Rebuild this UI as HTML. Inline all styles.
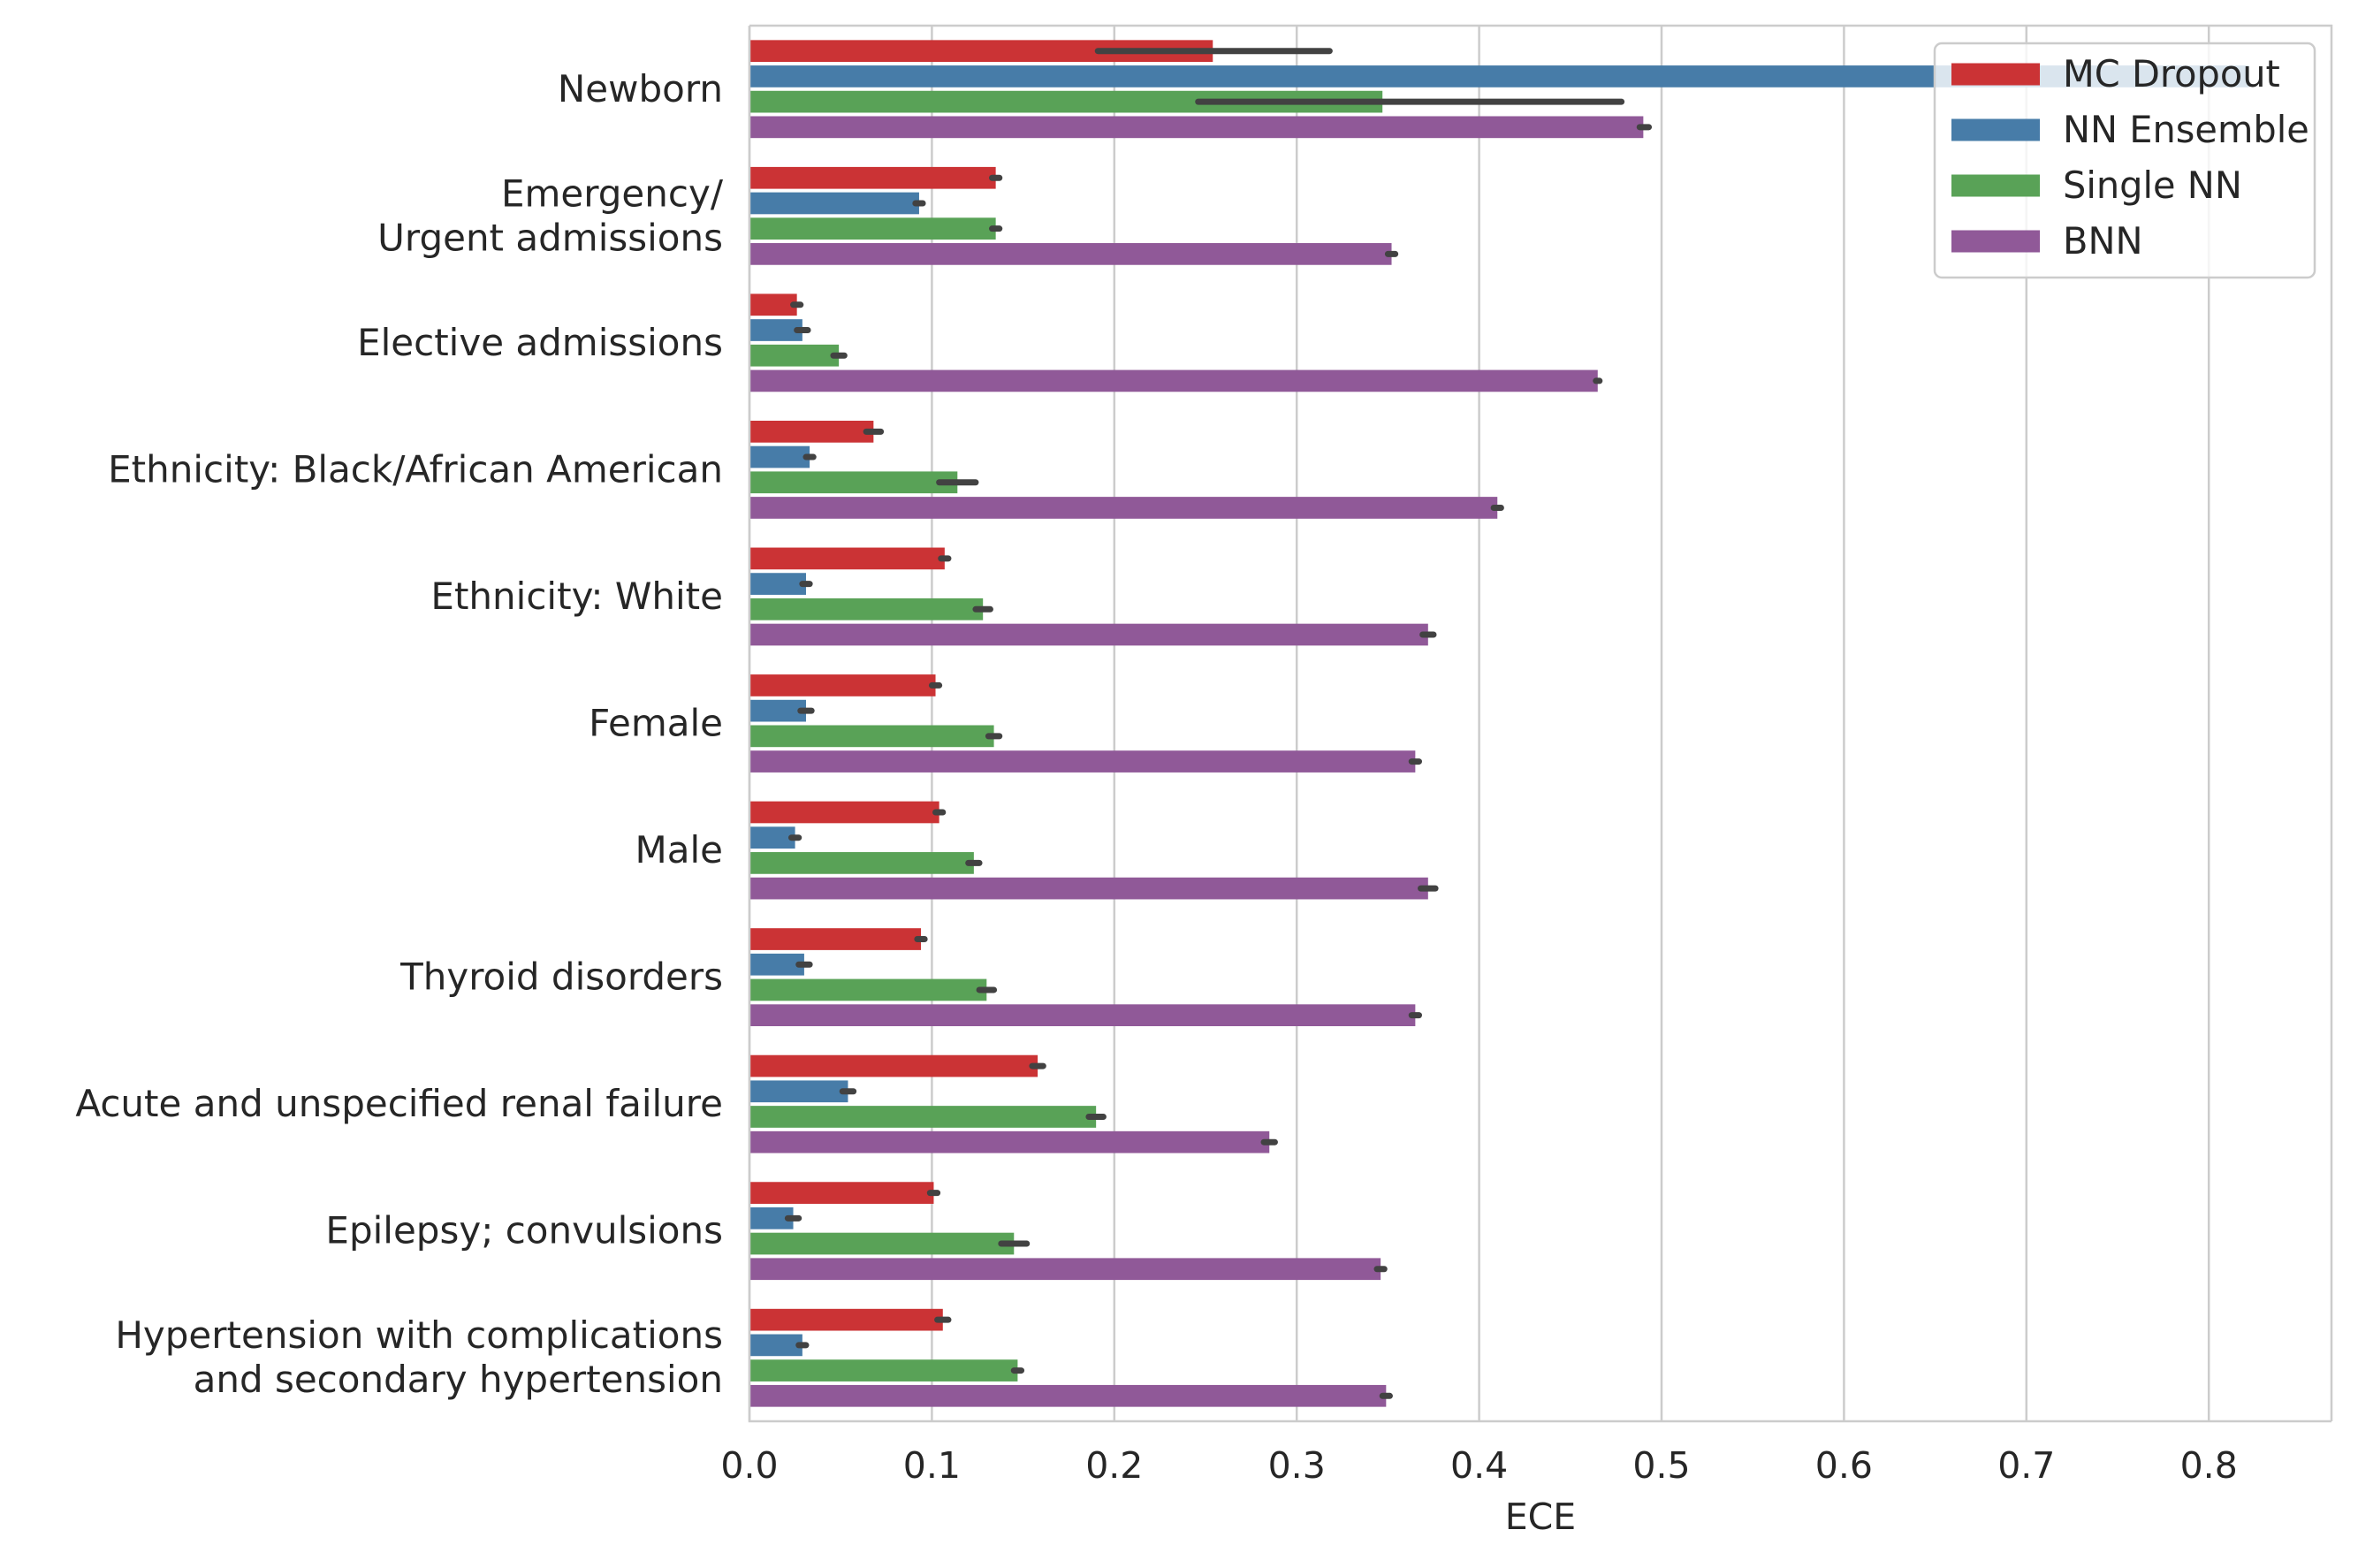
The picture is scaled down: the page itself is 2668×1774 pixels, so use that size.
<!DOCTYPE html>
<html><head><meta charset="utf-8"><style>
html,body{margin:0;padding:0;background:#fff;}
svg text{font-family:"DejaVu Sans","Liberation Sans",sans-serif;fill:#262626;}
</style></head><body>
<svg id="chart" width="2668" height="1769" viewBox="0 0 2668 1769" xmlns="http://www.w3.org/2000/svg">
<rect width="2668" height="1769" fill="#fff"/>
<g id="grid"></g><g id="bars"></g><g id="errs"></g><g id="axes"></g><g id="legend"></g>
</svg>
<script>
const categories = [["Newborn"],["Emergency/","Urgent admissions"],["Elective admissions"],["Ethnicity: Black/African American"],["Ethnicity: White"],["Female"],["Male"],["Thyroid disorders"],["Acute and unspecified renal failure"],["Epilepsy; convulsions"],["Hypertension with complications ","and secondary hypertension"]];
const seriesNames = ["MC Dropout","NN Ensemble","Single NN","BNN"];
const mcDropout = [0.254,0.135,0.026,0.068,0.107,0.102,0.104,0.094,0.158,0.101,0.106];
const nnEnsemble = [0.822,0.093,0.029,0.033,0.031,0.031,0.025,0.030,0.054,0.024,0.029];
const singleNN = [0.347,0.135,0.049,0.114,0.128,0.134,0.123,0.130,0.190,0.145,0.147];
const bnn = [0.490,0.352,0.465,0.410,0.372,0.365,0.372,0.365,0.285,0.346,0.349];
const mcErrLo = [0.063,0.002,0.002,0.004,0.002,0.002,0.002,0.002,0.003,0.002,0.003];
const mcErrHi = [0.064,0.002,0.002,0.004,0.002,0.002,0.002,0.002,0.003,0.002,0.003];
const nnErrLo = [0.0,0.002,0.003,0.002,0.002,0.003,0.002,0.003,0.003,0.003,0.002];
const nnErrHi = [0.0,0.002,0.003,0.002,0.002,0.003,0.002,0.003,0.003,0.003,0.002];
const snnErrLo = [0.101,0.002,0.003,0.010,0.004,0.003,0.003,0.004,0.004,0.007,0.002];
const snnErrHi = [0.131,0.002,0.003,0.010,0.004,0.003,0.003,0.004,0.004,0.007,0.002];
const bnnErrLo = [0.002,0.002,0.001,0.002,0.003,0.002,0.004,0.002,0.003,0.002,0.002];
const bnnErrHi = [0.003,0.002,0.001,0.002,0.003,0.002,0.004,0.002,0.003,0.002,0.002];
const xTicks = [0,0.1,0.2,0.3,0.4,0.5,0.6,0.7,0.8];

const colors = ["#cb3335","#477ca8","#59a257","#905998"];
const NS="http://www.w3.org/2000/svg";
const L=848,R=2638,T=29,B=1608;
const x=v=>L+v*2064;
const band=(B-T)/categories.length;
const y=(i,s)=>T+i*band+band*0.1+s*band*0.2;
function mk(tag,attrs,parent){const e=document.createElementNS(NS,tag);for(const k in attrs)e.setAttribute(k,attrs[k]);document.getElementById(parent).appendChild(e);return e;}
xTicks.forEach(t=>{
  const g=mk('line',{x1:x(t),x2:x(t),y1:T,y2:B,stroke:'#cccccc','stroke-width':2.5},'grid');
  
  
  const tx=mk('text',{x:x(t),y:1672,'font-size':41,'text-anchor':'middle'},'axes');
  tx.textContent=t.toFixed(1);
  
  
});
const allVals=[mcDropout,nnEnsemble,singleNN,bnn];
const allLo=[mcErrLo,nnErrLo,snnErrLo,bnnErrLo];
const allHi=[mcErrHi,nnErrHi,snnErrHi,bnnErrHi];
categories.forEach((c,i)=>{
  allVals.forEach((arr,s)=>{
    const r=mk('rect',{x:L,y:y(i,s)+2,width:x(arr[i])-L,height:band*0.2-4,fill:colors[s]},'bars');
    
    
    if(s===1&&i===0)return;
    const cy=y(i,s)+band*0.1;
    const l=mk('line',{x1:x(arr[i]-allLo[s][i]),x2:x(arr[i]+allHi[s][i]),y1:cy,y2:cy,stroke:'#424242','stroke-width':7,'stroke-linecap':'round'},'errs');
    
    
  });
  const cyc=T+(i+0.5)*band;
  const n=c.length;
  c.forEach((line,k)=>{
    const tx=mk('text',{x:818,y:cyc+14+(k-(n-1)/2)*50,'font-size':42,'text-anchor':'end','xml:space':'preserve'},'axes');
    tx.textContent=line;
    
    
  });
});
const sp=mk('path',{d:`M${L} ${T}V${B}H${R}M${L} ${T}H${R}V${B}`,fill:'none',stroke:'#cccccc','stroke-width':2.5},'axes');


const xl=mk('text',{x:(L+R)/2,y:1730,'font-size':41,'text-anchor':'middle'},'axes');
xl.textContent='ECE';


const lb=mk('rect',{x:2189,y:49,width:430,height:265,rx:8,fill:'#ffffff','fill-opacity':0.8,stroke:'#cccccc','stroke-width':2.5},'legend');


seriesNames.forEach((nm,s)=>{
  const cy=84+s*63;
  const p=mk('rect',{x:2208,y:cy-12.5,width:100,height:25,fill:colors[s]},'legend');
  
  
  const t=mk('text',{x:2334,y:cy+14,'font-size':41.5},'legend');
  t.textContent=nm;
  
  
});
</script>
</body></html>
